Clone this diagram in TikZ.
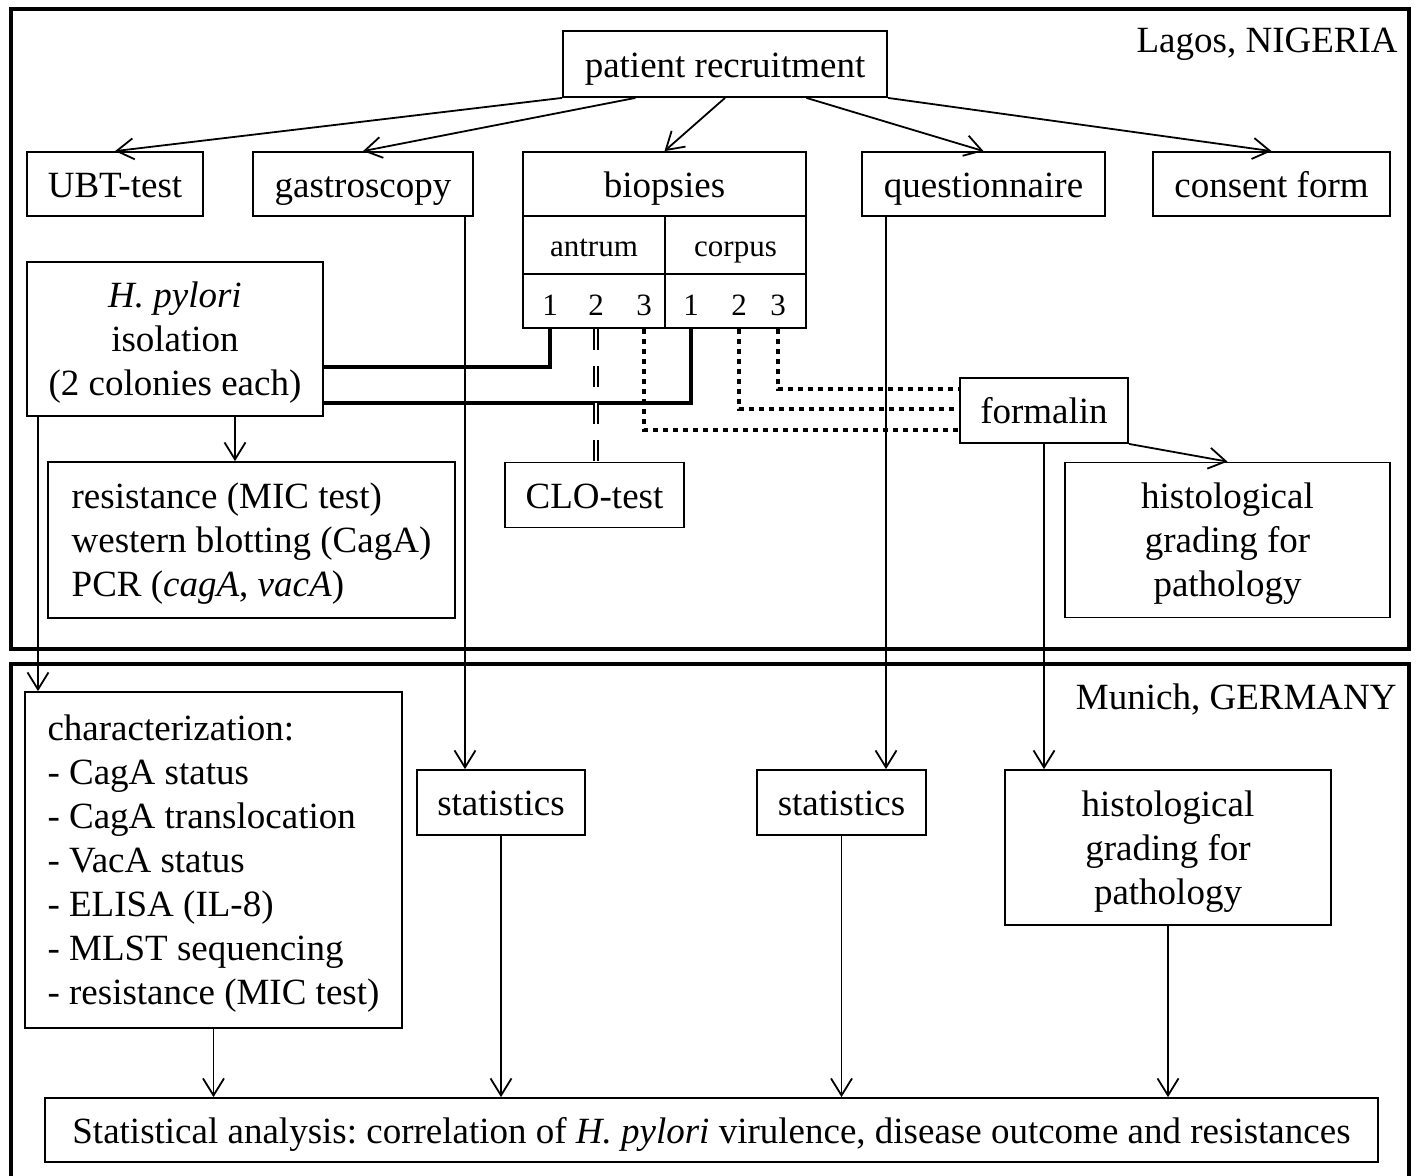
\documentclass[tikz,border=0pt]{standalone}
\usepackage{fontspec}
\setmainfont{Liberation Serif}
\usetikzlibrary{arrows.meta,calc}
\frenchspacing

\begin{document}
\begin{tikzpicture}[x=0.5pt,y=-0.5pt,
		every node/.style={font=\fontsize{18.5}{22}\selectfont},
		box/.style={draw,line width=0.9pt,inner sep=0pt,align=center},
		line1/.style={text height=14.5pt,text depth=1.5pt},
		mline/.style={text depth=-1pt},
		subtxt/.style={font=\fontsize{15.5}{18}\selectfont,text height=12pt,text depth=1pt},
		arr/.style={line width=0.9pt,-{Straight Barb[length=8.5pt,width=10.5pt]}},
		frame/.style={line width=2pt},
		thickln/.style={line width=2.2pt},
		dotln/.style={line width=2.3pt,dash pattern=on 2.3pt off 2.7pt},
		dashln/.style={double,line width=1pt,double distance=0.6pt,dash pattern=on 10.5pt off 8pt}]
		\useasboundingbox (0,0) rectangle (1416,1175);
		% the two sites
		\draw[frame] (11,9) rectangle (1409,649);
		\draw[frame] (11,1180) |- (1409,664) -- (1409,1180);
		\node[anchor=base east,inner sep=0pt] (lagos) at (1398,52) {Lagos, NIGERIA};
		\node[anchor=base east,inner sep=0pt] (munich) at (1397,709) {Munich, GERMANY};
		% Lagos
		\node[box,line1,minimum width=162pt,minimum height=33pt] (rec) at (725,64) {patient recruitment};
		\node[box,line1,minimum width=88pt,minimum height=32pt] (ubt) at (115,184) {UBT-test};
		\node[box,line1,minimum width=110pt,minimum height=32pt] (gas) at (363,184) {gastroscopy};
		\node[box,line1,minimum width=141.5pt,minimum height=32pt] (bio) at (664.5,184) {biopsies};
		\node[box,subtxt,minimum width=71pt,minimum height=29pt] (ant) at (594,245) {antrum};
		\node[box,subtxt,minimum width=70.5pt,minimum height=29pt] (cor) at (735.5,245) {corpus};
		\node[box,minimum width=71pt,minimum height=27pt] (anum) at (594,301) {};
		\node[box,minimum width=70.5pt,minimum height=27pt] (cnum) at (735.5,301) {};
		\node[subtxt] (a1) at (550,304) {1};
		\node[subtxt] (a2) at (596,304) {2};
		\node[subtxt] (a3) at (644,304) {3};
		\node[subtxt] (c1) at (691,304) {1};
		\node[subtxt] (c2) at (739,304) {2};
		\node[subtxt] (c3) at (778,304) {3};
		\node[box,line1,minimum width=121.5pt,minimum height=32pt] (que) at (983.5,184) {questionnaire};
		\node[box,line1,minimum width=118.5pt,minimum height=32pt] (con) at (1271.5,184) {consent form};
		\node[box,mline,minimum width=148pt,minimum height=77pt] (hp) at (175,339) {\textit{H. pylori}\\ isolation\\ (2 colonies each)};
		\node[box,mline,align=left,minimum width=203.5pt,minimum height=78pt] (res) at (251.5,540) {resistance (MIC test)\\ western blotting (CagA)\\ PCR (\textit{cagA}, \textit{vacA})};
		\node[box,line1,minimum width=89.5pt,minimum height=32.5pt] (clo) at (594.5,495) {CLO-test};
		\node[box,line1,minimum width=84pt,minimum height=32.5pt] (frm) at (1044,410.5) {formalin};
		\node[box,mline,minimum width=162.5pt,minimum height=77.5pt] (his1) at (1227.5,540) {histological\\ grading for\\ pathology};
		% Munich
		\node[box,mline,align=left,minimum width=188.5pt,minimum height=168pt] (chr) at (213.5,860) {characterization:\\ - CagA status\\ - CagA translocation\\ - VacA status\\ - ELISA (IL-8)\\ - MLST sequencing\\ - resistance (MIC test)};
		\node[box,line1,minimum width=84pt,minimum height=32.5pt] (st1) at (501,802.5) {statistics};
		\node[box,line1,minimum width=84.5pt,minimum height=32.5pt] (st2) at (841.5,802.5) {statistics};
		\node[box,mline,minimum width=163pt,minimum height=77.5pt] (his2) at (1168,847.5) {histological\\ grading for\\ pathology};
		\node[box,line1,minimum width=666.5pt,minimum height=32pt] (sa) at (711.5,1130) {Statistical analysis: correlation of \textit{H. pylori} virulence, disease outcome and resistances};
		% helper coordinates
		\coordinate (gx) at (465,0);
		\coordinate (qx) at (886,0);
		\coordinate (hx) at (235,0);
		\coordinate (cx) at (38,0);
		\coordinate (t1) at (0,367);
		\coordinate (t2) at (0,403);
		\coordinate (d1) at (0,389);
		\coordinate (d2) at (0,409);
		\coordinate (d3) at (0,430);
		% connectors
		\draw[arr] (rec.south west) -- (ubt.north);
		\draw[arr] ($(rec.south west)!0.225!(rec.south east)$) -- (gas.north);
		\draw[arr] (rec.south) -- (bio.north);
		\draw[arr] ($(rec.south west)!0.75!(rec.south east)$) -- (que.north);
		\draw[arr] (rec.south east) -- (con.north);
		\draw[arr] (gas.south -| gx) -- (st1.north -| gx);
		\draw[arr] (que.south -| qx) -- (st2.north -| qx);
		\draw[arr] (hp.south -| hx) -- (res.north -| hx);
		\draw[arr] (hp.south -| cx) -- (chr.north -| cx);
		\draw[thickln] (a1 |- anum.south) |- (hp.east |- t1);
		\draw[thickln] (c1 |- cnum.south) |- (hp.east |- t2);
		\draw[dashln] (a2 |- anum.south) -- (a2 |- clo.north);
		\draw[dotln] (c3 |- cnum.south) |- (frm.west |- d1);
		\draw[dotln] (c2 |- cnum.south) |- (frm.west |- d2);
		\draw[dotln] (a3 |- anum.south) |- (frm.west |- d3);
		\draw[arr] (frm.south east) -- (his1.north);
		\draw[arr] (frm.south) -- (his2.north -| frm.south);
		\draw[arr] (chr.south) -- (chr.south |- sa.north);
		\draw[arr] (st1.south) -- (st1.south |- sa.north);
		\draw[arr] (st2.south) -- (st2.south |- sa.north);
		\draw[arr] (his2.south) -- (his2.south |- sa.north);
\end{tikzpicture}
\end{document}
